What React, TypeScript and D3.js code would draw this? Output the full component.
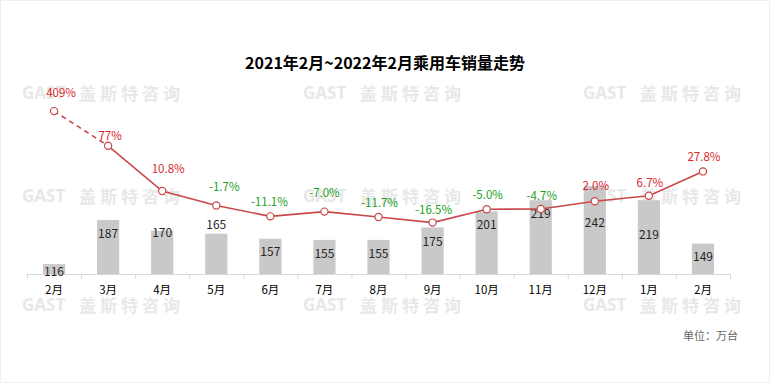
import React from "react";
import * as d3 from "d3";

const categories = ["2月", "3月", "4月", "5月", "6月", "7月", "8月", "9月", "10月", "11月", "12月", "1月", "2月"];
const sales = [116, 187, 170, 165, 157, 155, 155, 175, 201, 219, 242, 219, 149];
const growth = [409, 77, 10.8, -1.7, -11.1, -7.0, -11.7, -16.5, -5.0, -4.7, 2.0, 6.7, 27.8];
// plotted positions for growth (first two values are capped on a broken axis)
const growthPlot = [80, 50, 10.8, -1.7, -11.1, -7.0, -11.7, -16.5, -5.0, -4.7, 2.0, 6.7, 27.8];

// layout tweaks for labels (px)
const barLabelDy = [6, 12, 1, -10, 12, 13, 13, 13, 12, 12, 36, 33, 12];
const growthLabelDx = [7, 2, 6, 8, -1, 0, 1, 1, 1, 1, 1, 1, 1];
const growthLabelDy = [-19, -11, -23, -19, -15, -20, -15, -14, -15, -14, -16, -14, -15];

const W = 770;
const H = 383;
const FONT = "'Microsoft YaHei', 'Noto Sans CJK SC', 'Noto Sans', sans-serif";
const LINE = "#C9484A";
const RED = "#D9262C";
const GREEN = "#22A022";

export default function App() {
  const idx = categories.map((_, i) => String(i));
  const x = d3.scaleBand<string>().domain(idx).range([27, 730]).padding(0);
  const yBar = d3.scaleLinear().domain([100, 400]).range([274, 88]);
  const yLine = d3.scaleLinear().domain([-61, 100]).range([274, 88]);
  const bw = x.bandwidth() * 0.41;
  const cx = (i: number) => (x(String(i)) as number) + x.bandwidth() / 2;

  const pts: [number, number][] = growthPlot.map((v, i) => [cx(i), yLine(v)]);
  const line = d3.line();
  const dashed = line(pts.slice(0, 2)) as string;
  const solid = line(pts.slice(1)) as string;

  const wmRows = [92, 195, 304];
  const wmCols = [22, 303, 583];

  const fmt = (v: number) => (Math.abs(v) >= 50 ? v.toFixed(0) : v.toFixed(1)) + "%";

  return (
    <svg width={W} height={H} style={{ position: "absolute", left: 0, top: 0, background: "#fff" }} fontFamily={FONT}>
      <rect x={0.5} y={0.5} width={W - 1} height={H - 1} fill="#fff" stroke="#efefef" />
      {/* watermarks */}
      {wmRows.map((wy) =>
        wmCols.map((wx) => (
          <g key={`${wx}-${wy}`} fill="#e8e8e8" fontWeight="bold" fontSize={17}>
            <text x={wx} y={wy} dominantBaseline="central" fontFamily="'Open Sans', sans-serif">GAST</text>
            <text x={wx + 57} y={wy} dominantBaseline="central" letterSpacing={4}>盖斯特咨询</text>
          </g>
        ))
      )}
      <text x={385} y={62} textAnchor="middle" dominantBaseline="central" fontSize={16} fontWeight="bold" fill="#000">
        2021年2月~2022年2月乘用车销量走势
      </text>
      {/* bars */}
      {sales.map((v, i) => (
        <rect key={i} x={cx(i) - bw / 2} y={yBar(v)} width={bw} height={yBar(100) - yBar(v)} fill="#C9C9C9" />
      ))}
      {/* axis */}
      <line x1={27} x2={730} y1={274.5} y2={274.5} stroke="#D9D9D9" />
      {idx.concat(["end"]).map((k, i) => {
        const tx = i < idx.length ? (x(k) as number) : 730;
        return <line key={k} x1={tx + 0.5} x2={tx + 0.5} y1={274} y2={279} stroke="#D9D9D9" />;
      })}
      {categories.map((c, i) => (
        <text key={i} x={cx(i)} y={289} textAnchor="middle" dominantBaseline="central" fontSize={11.5} fill="#000">
          {c}
        </text>
      ))}
      {/* bar labels */}
      {sales.map((v, i) => (
        <text key={i} x={cx(i)} y={yBar(v) + barLabelDy[i]} textAnchor="middle" dominantBaseline="central" fontSize={12} fill="#262626">
          {v}
        </text>
      ))}
      {/* line */}
      <path d={dashed} fill="none" stroke={LINE} strokeWidth={1.6} strokeDasharray="5,4" />
      <path d={solid} fill="none" stroke={LINE} strokeWidth={1.6} />
      {pts.map(([px, py], i) => (
        <circle key={i} cx={px} cy={py} r={3.6} fill="#fff" stroke={LINE} strokeWidth={1.2} />
      ))}
      {growth.map((v, i) => (
        <text
          key={i}
          x={pts[i][0] + growthLabelDx[i]}
          y={pts[i][1] + growthLabelDy[i]}
          textAnchor="middle"
          dominantBaseline="central"
          fontSize={11.5}
          fill={v >= 0 ? RED : GREEN}
        >
          {fmt(v)}
        </text>
      ))}
      <text x={738} y={335} textAnchor="end" dominantBaseline="central" fontSize={11} fill="#666">
        单位：万台
      </text>
    </svg>
  );
}
